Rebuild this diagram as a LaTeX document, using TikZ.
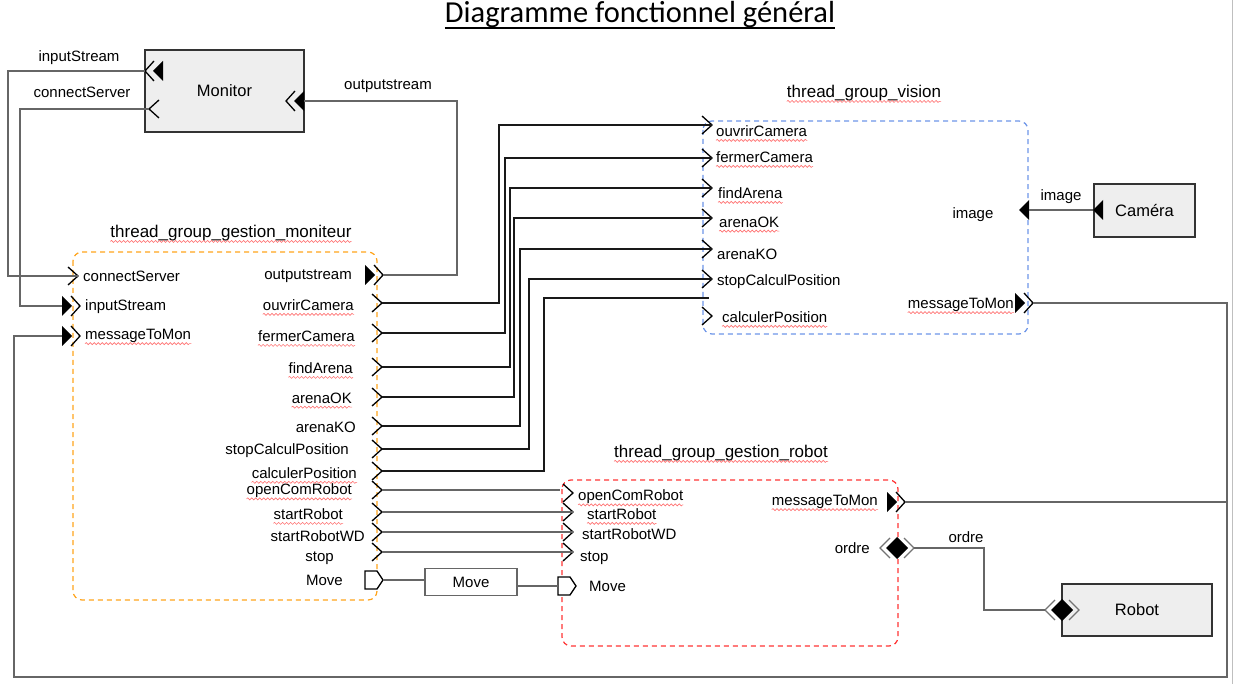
\documentclass[tikz,border=0pt]{standalone}
\usepackage{fontspec}
\setmainfont{Liberation Sans}
\newfontfamily\titlefont{Carlito}
\usepackage{tikz}
\usetikzlibrary{positioning, decorations.pathmorphing}
\definecolor{boxgray}{HTML}{EEEEEE}
\definecolor{grporange}{HTML}{FFA41C}
\definecolor{grpblue}{HTML}{6D95E8}
\definecolor{grpred}{HTML}{FF3434}
\tikzset{
  lbl/.style = {inner sep=0pt, font=\fontsize{15}{18}\selectfont},
  gtitle/.style = {inner sep=0pt, font=\fontsize{17}{20}\selectfont},
  blk/.style = {draw=black!80, fill=boxgray, line width=1.6pt,
    font=\fontsize{16.5}{20}\selectfont},
  grp/.style = {dash pattern=on 5pt off 4pt, rounded corners=9pt, line width=1.2pt},
  wire/.style = {draw=black!60, line width=1.5pt},
  wireb/.style = {draw=black!90, line width=1.5pt},
  squig/.style = {draw=red!55, line width=0.6pt, decorate,
    decoration={snake, segment length=4pt, amplitude=1pt}},
  pics/chev/.style = {code={
    \draw[line width=1.3pt] (-10,-9) -- (0,0) -- (-10,9);
    \coordinate (-tip) at (0,0);}},
  pics/outp/.style = {code={
    \fill (-18,-10) -- (-8,0) -- (-18,10) -- cycle;
    \draw[line width=1.3pt] (-9,-10) -- (0,0) -- (-9,10);
    \coordinate (-tip) at (0,0);
    \coordinate (-base) at (-18,0);}},
  pics/tri/.style = {code={
    \fill (0,0) -- (10,-10) -- (10,10) -- cycle;
    \coordinate (-tip) at (0,0);
    \coordinate (-base) at (10,0);}},
  pics/flag/.style = {code={
    \draw[line width=1.3pt, fill=white] (0,-9) -- (12,-9) -- (18,0) -- (12,9) -- (0,9) -- cycle;
    \coordinate (-base) at (0,0);
    \coordinate (-tip) at (18,0);}},
  pics/diam/.style = {code={
    \draw[black!55, line width=1.3pt] (-7,-10) -- (-17,0) -- (-7,10);
    \draw[black!55, line width=1.3pt] (7,-10) -- (17,0) -- (7,10);
    \fill (-11,0) -- (0,-11) -- (11,0) -- (0,11) -- cycle;
    \coordinate (-l) at (-17,0);
    \coordinate (-r) at (17,0);}}
}

\begin{document}
\begin{tikzpicture}[x=1pt, y=-1pt]
\useasboundingbox (0,0) rectangle (1234,684);
\draw[black!25, line width=1.5pt] (1232.5,0) -- (1232.5,684);

\node[inner sep=0pt, font=\titlefont\fontsize{30.5}{34}\selectfont] (title) at (640,15) {Diagramme fonctionnel général};
\draw[line width=1.8pt] ([yshift=-5pt]title.base west) -- ([yshift=-5pt]title.base east);

% groups
\draw[grp, grporange] (73,252) rectangle (377,600);
\draw[grp, grpblue] (703,121) rectangle (1028,334);
\draw[grp, grpred] (562,480) rectangle (898,646);
\node[gtitle] (tgm) at (231,233) {thread\_group\_gestion\_moniteur};
\node[gtitle] (tgv) at (864,93) {thread\_group\_vision};
\node[gtitle] (tgr) at (721,453) {thread\_group\_gestion\_robot};

% boxes
\node[blk, minimum width=159pt, minimum height=82pt] (monitor) at (224.5,91) {Monitor};
\node[blk, minimum width=101pt, minimum height=53pt] (camera) at (1144.5,210.5) {Caméra};
\node[blk, minimum width=150pt, minimum height=52pt] (robot) at (1137,610) {Robot};
\node[draw=black!60, line width=1.3pt, fill=white, minimum width=92pt, minimum height=27pt,
  font=\fontsize{15}{18}\selectfont] (mv) at (471,582) {Move};

% bends
\coordinate (lA) at (8,200);
\coordinate (lB) at (20,200);
\coordinate (lC) at (457,200);
\coordinate (lR) at (1227,677);
\coordinate (lL) at (14,677);
\coordinate (kO) at (984,580);
\coordinate (vcalcE) at (709,298);
\coordinate (ropenE) at (560,490);

% ports
\pic[xscale=-1] (mIn) at (145,71) {outp};
\pic[xscale=-1] (mConn) at (149,109) {chev};
\pic[xscale=-1] (mOut) at (286,101) {outp};
\pic (gConn) at (78,276) {chev};
\pic (gIn) at (80,306) {outp};
\pic (gMsg) at (80,336) {outp};
\pic (gOut) at (383,275) {outp};
\foreach \n/\y in {ouv/303, fer/333, find/367, ok/397, ko/426, stopc/449, calc/471,
  open/490, start/512, wd/532, stop/552}
  \pic (g\n) at (382,\y) {chev};
\pic (gMove) at (365,580) {flag};
\foreach \n/\y in {ouv/125, fer/158, find/188, ok/218, ko/249, stopc/279, calc/316}
  \pic (v\n) at (712,\y) {chev};
\pic (vImg) at (1019,210) {tri};
\pic (cImg) at (1093,210) {tri};
\pic (vMsg) at (1033,303) {outp};
\foreach \n/\y in {open/493, start/512, wd/532, stop/552}
  \pic (r\n) at (573,\y) {chev};
\pic (rMove) at (558,586) {flag};
\pic (rMsg) at (905,502) {outp};
\pic (rOrd) at (897,548) {diam};
\pic (bOrd) at (1062,610) {diam};

% wires
\draw[wire] (mIn-tip) -| (lA) |- (gConn-tip);
\draw[wire] (mConn-tip) -| (lB) |- (gIn-base);
\draw[wire] (mOut-base) -| (lC) |- (gOut-tip);
\foreach \n/\t/\x in {ouv/vouv-tip/499, fer/vfer-tip/505, find/vfind-tip/510, ok/vok-tip/514,
  ko/vko-tip/520, stopc/vstopc-tip/529, calc/vcalcE/544}{
  \coordinate (k\n) at (\x,0);
  \draw[wireb] (g\n-tip) -| (k\n |- \t) -- (\t);
}
\foreach \n/\t in {open/ropenE, start/rstart-tip, wd/rwd-tip, stop/rstop-tip}
  \draw[wire] (g\n-tip) -- (\t);
\draw[wire] (gMove-tip) -- (gMove-tip -| mv.west);
\draw[wire] (mv.east |- rMove-base) -- (rMove-base);
\draw[wire] (cImg-tip) -- (vImg-base);
\draw[wire] (vMsg-tip) -| (lR) -- (lL) |- (gMsg-base);
\draw[wire] (rMsg-tip) -- (rMsg-tip -| lR);
\draw[wire] (rOrd-r) -| (kO) |- (bOrd-l);

% labels
\node[lbl] (lmIn) at (79,58) {inputStream};
\node[lbl] (lmConn) at (82,92) {connectServer};
\node[lbl] (lmOut) at (388,86) {outputstream};

\node[lbl, anchor=west] (lgConn) at (83,276) {connectServer};
\node[lbl, anchor=west] (lgIn) at (85,307) {inputStream};
\node[lbl, anchor=west] (lgMsg) at (85,336) {messageToMon};
\node[lbl, anchor=east] (lgOut) at (352,276) {outputstream};
\node[lbl, anchor=east] (lgouv) at (354,305) {ouvrirCamera};
\node[lbl, anchor=east] (lgfer) at (355,336) {fermerCamera};
\node[lbl, anchor=east] (lgfind) at (353,368) {findArena};
\node[lbl, anchor=east] (lgok) at (352,398) {arenaOK};
\node[lbl, anchor=east] (lgko) at (356,427) {arenaKO};
\node[lbl, anchor=east] (lgstopc) at (349,451) {stopCalculPosition};
\node[lbl, anchor=east] (lgcalc) at (357,473) {calculerPosition};
\node[lbl, anchor=east] (lgopen) at (352,491) {openComRobot};
\node[lbl, anchor=east] (lgstart) at (343,514) {startRobot};
\node[lbl, anchor=east] (lgwd) at (365,536) {startRobotWD};
\node[lbl, anchor=east] (lgstop) at (334,558) {stop};
\node[lbl, anchor=east] (lgmove) at (343,580) {Move};

\node[lbl, anchor=west] (lvouv) at (716,131) {ouvrirCamera};
\node[lbl, anchor=west] (lvfer) at (716,157) {fermerCamera};
\node[lbl, anchor=west] (lvfind) at (718,193) {findArena};
\node[lbl, anchor=west] (lvok) at (719,222) {arenaOK};
\node[lbl, anchor=west] (lvko) at (717,254) {arenaKO};
\node[lbl, anchor=west] (lvstopc) at (717,282) {stopCalculPosition};
\node[lbl, anchor=west] (lvcalc) at (722,317) {calculerPosition};
\node[lbl] (lvimg) at (973,215) {image};
\node[lbl, anchor=east] (lvmsg) at (1014,305) {messageToMon};
\node[lbl] (lcimg) at (1061,197) {image};

\node[lbl, anchor=west] (lropen) at (578,497) {openComRobot};
\node[lbl, anchor=west] (lrstart) at (587,514) {startRobot};
\node[lbl, anchor=west] (lrwd) at (582,534) {startRobotWD};
\node[lbl, anchor=west] (lrstop) at (580,558) {stop};
\node[lbl, anchor=west] (lrmove) at (589,586) {Move};
\node[lbl, anchor=east] (lrmsg) at (878,502) {messageToMon};
\node[lbl, anchor=east] (lrord) at (870,548) {ordre};
\node[lbl] (lbord) at (966,537) {ordre};

% spell-check marks
\foreach \n in {tgm, tgv, tgr, lgMsg, lgouv, lgfer, lgfind, lgok, lgcalc, lgopen, lgstart,
  lvouv, lvfer, lvfind, lvok, lvcalc, lvmsg, lropen, lrstart, lrmsg}
  \draw[squig] ([yshift=-4pt]\n.base west) -- ([yshift=-4pt]\n.base east);
\end{tikzpicture}
\end{document}
